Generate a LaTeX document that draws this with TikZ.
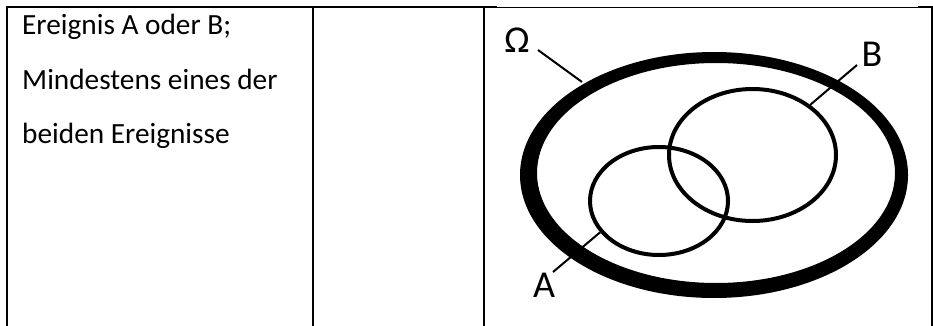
\documentclass[tikz,border=0pt]{standalone}
\usepackage{fontspec}
\setmainfont{Carlito}
\usetikzlibrary{shapes.geometric,positioning}

\begin{document}
\begin{tikzpicture}[x=1pt,y=-1pt,
    rowtext/.style={anchor=base west, inner sep=0pt, font=\fontsize{29.3}{34}\selectfont},
    setlabel/.style={inner sep=0pt, font=\fontsize{38}{44}\selectfont},
    setring/.style={draw, ellipse, line width=4pt, inner sep=0pt},
    leader/.style={line width=2pt}]
    \useasboundingbox (0,0) rectangle (933,326);

    % Table borders
    \draw[line width=2pt] (7,326) -- (7,7) -- (497,7);
    \draw[line width=0.8pt] (497,7.3) -- (918,7.3);
    \draw[line width=2pt] (918,7) -- (932,7) -- (932,326);
    \draw[line width=2pt] (313,7) -- (313,326);
    \draw[line width=2pt] (484,7) -- (484,326);

    % Text in first cell
    \node[rowtext] (line1) at (22,35) {Ereignis A oder B;};
    \node[rowtext] (line2) at (22,90) {Mindestens eines der};
    \node[rowtext] (line3) at (22,143) {beiden Ereignisse};

    % Sample space
    \fill[even odd rule] (714,175) ellipse [x radius=194, y radius=123]
                         (716,173) ellipse [x radius=179, y radius=110];
    \coordinate (omegaedge) at (582,82);

    % Events
    \node[setring, minimum width=138pt, minimum height=108pt] (setA) at (659,201) {};
    \node[setring, minimum width=167pt, minimum height=132pt] (setB) at (752.5,155) {};

    % Labels
    \node[setlabel] (omega) at (517,40) {Ω};
    \node[setlabel] (labB) at (872,54) {B};
    \node[setlabel] (labA) at (544,285) {A};

    \draw[leader] (538,50) -- (omegaedge);
    \draw[leader] (857,65) -- (setB.41);
    \draw[leader] (553,272) -- (setA.208);
\end{tikzpicture}
\end{document}
